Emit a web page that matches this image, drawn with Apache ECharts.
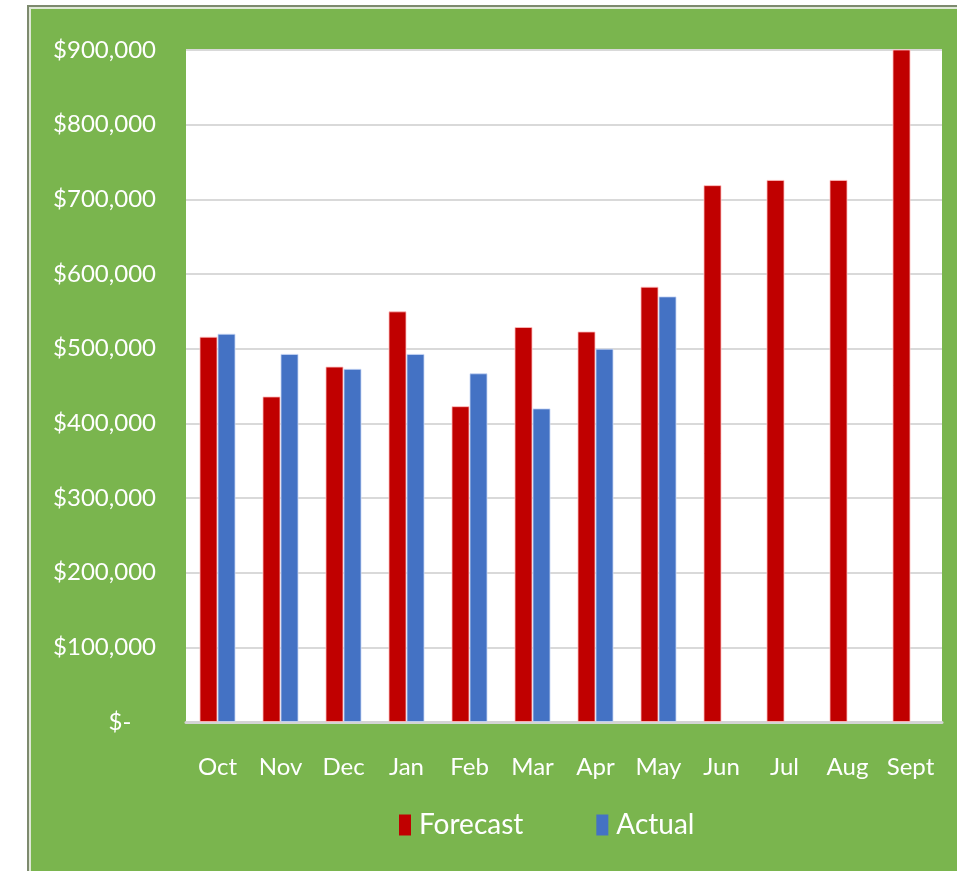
<!DOCTYPE html>
<html>
<head>
<meta charset="utf-8">
<script src="https://cdn.jsdelivr.net/npm/echarts@6/dist/echarts.min.js"></script>
<style>
  html, body { margin: 0; padding: 0; background: #fff; }
  #frame {
    position: absolute; left: 27px; top: 5px; width: 940px; height: 880px;
    background: #7ab54e; border-left: 2px solid #7d8a6e; border-top: 2px solid #7d8a6e;
    box-shadow: inset 2px 2px 0 #dfe8d6;
  }
  #chart-container { position: absolute; left: 0; top: 0; width: 957px; height: 871px; }
</style>
</head>
<body>
<div id="frame"></div>
<div id="chart-container"></div>
<script>
var months = ['Oct', 'Nov', 'Dec', 'Jan', 'Feb', 'Mar', 'Apr', 'May', 'Jun', 'Jul', 'Aug', 'Sept'];
var forecast = [516000, 436000, 476000, 550000, 423000, 529000, 523000, 583000, 719000, 726000, 726000, 930000];
var actual = [520000, 493000, 473000, 493000, 467000, 420000, 500000, 570000, null, null, null, null];

var chartDom = document.getElementById('chart-container');
var myChart = echarts.init(chartDom);
var font = 'Lato';

var option = {
  backgroundColor: 'transparent',
  textStyle: { fontFamily: font },
  grid: {
    left: 186, right: 15, top: 50, bottom: 149,
    show: true, backgroundColor: '#ffffff', borderWidth: 0
  },
  legend: {
    left: 394, top: 806,
    itemWidth: 12, itemHeight: 21, itemGap: 73,
    icon: 'rect',
    itemStyle: { borderWidth: 0 },
    textStyle: { color: '#fff', fontSize: 28, fontFamily: font, padding: [0, 0, 0, 3] },
    data: ['Forecast', 'Actual']
  },
  xAxis: {
    type: 'category',
    data: months,
    axisLine: { lineStyle: { color: '#d4d4d4', width: 3 } },
    axisTick: { show: false },
    axisLabel: { color: '#fff', fontSize: 24, margin: 33, fontFamily: font }
  },
  yAxis: {
    type: 'value',
    min: 0, max: 900000, interval: 100000,
    axisLine: { show: false },
    axisTick: { show: false },
    splitLine: { lineStyle: { color: '#d9d9d9', width: 2 } },
    axisLabel: {
      color: '#fff', fontSize: 24, margin: 30, fontFamily: font,
      formatter: function (v) {
        if (v === 0) return '$-    ';
        return '$' + v.toLocaleString('en-US');
      }
    }
  },
  series: [
    {
      name: 'Forecast', type: 'bar', data: forecast,
      barWidth: 18, barGap: '0%',
      itemStyle: { color: '#c00000', borderColor: 'rgba(255,190,190,0.8)', borderWidth: 1 }
    },
    {
      name: 'Actual', type: 'bar', data: actual,
      barWidth: 18,
      itemStyle: { color: '#4472c4', borderColor: 'rgba(200,215,245,0.8)', borderWidth: 1 }
    }
  ]
};

option && myChart.setOption(option);
</script>
</body>
</html>
